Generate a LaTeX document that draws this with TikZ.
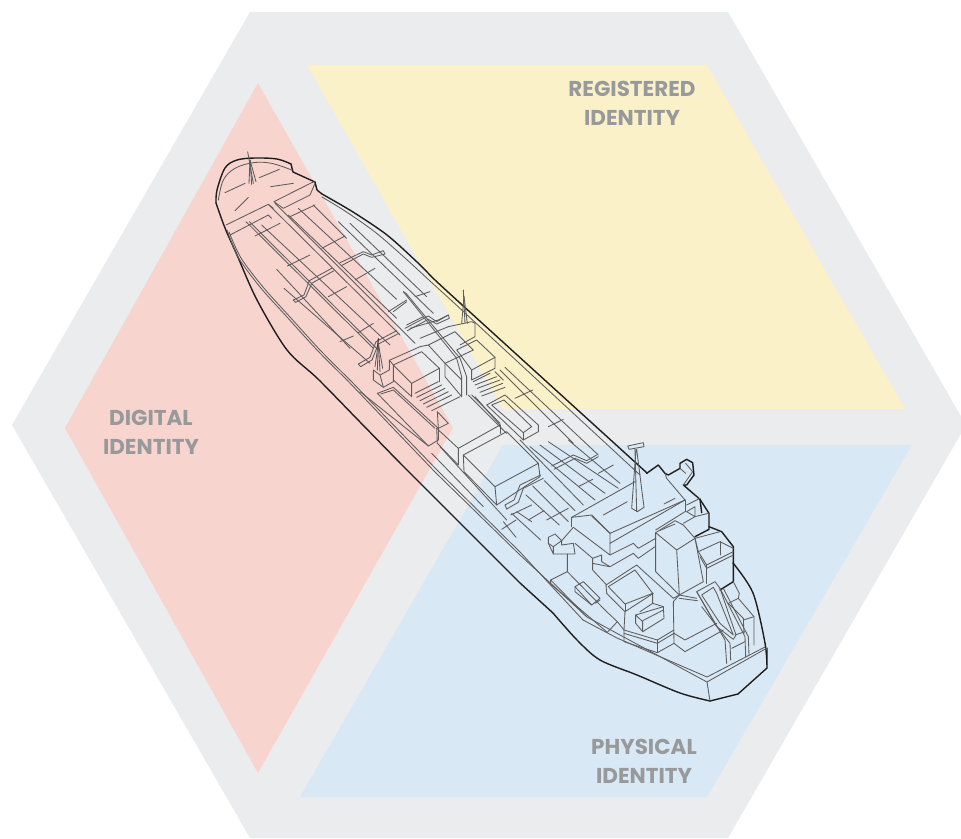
\documentclass[tikz,border=0pt]{standalone}
\usepackage{fontspec}
\setmainfont{Poppins}
\definecolor{hexc}{HTML}{EBECEE}
\definecolor{redc}{HTML}{F8D4CF}
\definecolor{yelc}{HTML}{FBF1C9}
\definecolor{bluc}{HTML}{D9E8F5}
\definecolor{txtc}{HTML}{98999B}
\definecolor{inkc}{HTML}{5C5C5C}
\definecolor{darkc}{HTML}{1E1E1E}
\tikzset{
 ln/.style={draw=inkc,line width=0.85pt,line join=round,line cap=round},
 hv/.style={draw=darkc,line width=1.4pt,line join=round,line cap=round},
 lbl/.style={text=txtc,font=\fontsize{21.5}{29}\selectfont\bfseries,align=center,inner sep=0pt},
 zoomA/.style={x=0.33333pt,y=-0.33333pt,shift={(200pt,-140pt)}},
 zoomB/.style={x=0.33333pt,y=-0.33333pt,shift={(360pt,-280pt)}},
 zoomC/.style={x=0.33333pt,y=-0.33333pt,shift={(520pt,-430pt)}},
 zoomD/.style={x=0.33333pt,y=-0.33333pt,shift={(440pt,-440pt)}}
}
\begin{document}
\begin{tikzpicture}[x=1pt,y=-1pt]
\fill[white] (0,0) rectangle (961,838);
\clip (0,0) rectangle (961,838);
\useasboundingbox (0,0) rectangle (961,838);
\fill[hexc] (250,12) -- (728,12) -- (966,425) -- (728,838) -- (250,838) -- (12,425) -- cycle;
\fill[redc] (258,83) -- (453,428) -- (258,773) -- (65,428) -- cycle;
\fill[yelc] (307,65) -- (707,65) -- (905,409) -- (503,409) -- cycle;
\fill[bluc] (503,445) -- (912,445) -- (707,797) -- (300,797) -- cycle;
\node[lbl] (reg) at (632,103) {REGISTERED\\IDENTITY};
\node[lbl] (dig) at (151,432) {DIGITAL\\IDENTITY};
\node[lbl] (phy) at (644,761) {PHYSICAL\\IDENTITY};
% hull outlines
\draw[hv] plot[smooth,tension=0.55] coordinates {(216,203) (217,190) (225,168) (237,160) (255,158) (277,159) (291,164)};
\draw[hv] (291,164) -- (293,172) -- (315,182) -- (317,190) -- (322,194);
\draw[hv] plot[smooth,tension=0.5] coordinates {(322,194) (353,212) (387,235) (417,262) (435,280) (460,303)};
\draw[hv] (460,303) -- (647,473);
\draw[hv] plot[smooth,tension=0.5] coordinates {(216,203) (225,228) (237,255) (257,300) (287,350) (318,379) (360,422) (400,463)};
\draw[hv] (400,463) -- (520,583) -- (553,613);
\draw[hv] plot[smooth,tension=0.5] coordinates {(553,613) (577,640) (600,660) (637,675) (680,693) (710,701)};
\draw[hv] (710,701) -- (738,694) -- (767,668);
\draw[hv] plot[smooth,tension=0.5] coordinates {(767,668) (765,643) (753,593) (733,563)};
% inner hull lines
\draw[ln] plot[smooth,tension=0.5] coordinates {(322,197) (345,211) (375,232) (405,258) (430,281) (452,301)};
\draw[ln] (452,301) -- (640,475);
\draw[ln] plot[smooth,tension=0.5] coordinates {(227,230) (238,257) (260,287) (287,317) (317,350) (347,380)};
\draw[ln] (347,380) -- (435,472) -- (520,555) -- (587,617);
\draw[ln] plot[smooth,tension=0.5] coordinates {(229,232) (241,258) (263,287) (290,317) (320,350) (350,380)};
\draw[ln] (350,380) -- (437,470) -- (520,552) -- (583,620);
\draw[ln] (587,617) -- (620,635) -- (707,682) -- (767,648);
\draw[ln] (583,620) -- (617,638) -- (707,677) -- (765,647);
\draw[ln] (707,682) -- (710,701);
\draw[ln] (767,648) -- (767,668);
\begin{scope}[zoomA]
 \draw[ln] plot[smooth,tension=0.6] coordinates {(55,180) (70,120) (105,85) (160,68) (215,70) (275,90)};
 % forward mast
 \draw[ln] (143,35) -- (160,130); \draw[ln] (150,60) -- (147,130); \draw[ln] (150,60) -- (155,133); \draw[ln] (150,60) -- (168,125);
 \draw[ln] (75,158) -- (135,130); \draw[ln] (178,113) -- (238,88); \draw[ln] (212,140) -- (280,130); \draw[ln] (105,212) -- (145,172);
 \draw[ln] (222,185) -- (335,128) -- (345,125); \draw[ln] (222,185) -- (250,205) -- (330,165) -- (345,130);
 \draw[ln] (78,255) -- (205,193) -- (220,205); \draw[ln] (90,285) -- (205,225) -- (215,235);
 % long deck pipes
 \draw[ln] (205,193) -- (600,585); \draw[ln] (225,190) -- (645,610);
 \draw[ln] (138,245) -- (520,625); \draw[ln] (148,245) -- (530,625);
 \draw[ln] (185,255) -- (570,615); \draw[ln] (230,388) -- (450,625); \draw[ln] (252,445) -- (510,670);
 \draw[ln] (265,225) -- (590,535); \draw[ln] (295,205) -- (590,478); \draw[ln] (340,195) -- (440,295);
 \draw[ln] (415,245) -- (700,520); \draw[ln] (450,250) -- (680,470);
 % cross pieces
 \draw[ln] (270,230) -- (345,195); \draw[ln] (165,288) -- (240,250); \draw[ln] (365,325) -- (435,288);
 \draw[ln] (262,378) -- (330,345); \draw[ln] (385,470) -- (440,440); \draw[ln] (465,420) -- (525,385);
 \draw[ln] (475,578) -- (520,550); \draw[ln] (420,605) -- (460,588); \draw[ln] (565,515) -- (620,480); \draw[ln] (645,470) -- (690,455);
 % pipe bridges
 \draw[ln] (280,480) -- (312,465) -- (328,422) -- (395,385); \draw[ln] (287,487) -- (318,470) -- (335,430) -- (402,392); \draw[ln] (280,480) -- (287,487);
 \draw[ln] (420,368) -- (490,335) -- (515,345) -- (550,332) -- (555,342) -- (515,352) -- (490,342) -- (426,376);
 \draw[ln] (475,672) -- (510,652) -- (528,605) -- (590,572); \draw[ln] (482,680) -- (516,660) -- (535,612) -- (597,580); \draw[ln] (475,672) -- (482,680);
 \draw[ln] (615,565) -- (685,528) -- (710,545) -- (745,525) -- (748,535) -- (710,552) -- (685,538) -- (622,572);
\end{scope}
\begin{scope}[zoomB]
 % aft masts
 \draw[darkc,line width=1pt] (55,175) -- (52,210);
 \draw[ln] (55,190) -- (60,275); \draw[ln] (55,190) -- (45,260); \draw[ln] (55,190) -- (52,270); \draw[ln] (55,190) -- (68,265);
 \draw[ln] (310,30) -- (315,130); \draw[ln] (312,50) -- (305,130); \draw[ln] (312,50) -- (322,130);
 % crane
 \draw[ln] (130,35) -- (290,235) -- (305,290) -- (305,350); \draw[ln] (138,40) -- (300,235) -- (320,290) -- (320,345); \draw[ln] (130,35) -- (138,40);
 % block A
 \draw[ln] (40,270) -- (40,300) -- (70,322) -- (100,305) -- (100,255) -- (88,240) -- (88,270) -- (60,285) -- cycle; \draw[ln] (60,285) -- (70,322);
 % block B
 \draw[ln] (100,255) -- (155,310) -- (238,265) -- (185,215) -- cycle;
 \draw[ln] (100,300) -- (155,350) -- (155,310); \draw[ln] (238,265) -- (238,305);
 \foreach \a/\b/\c/\d in {165/340/235/305,170/352/245/315,180/362/255/325,190/372/265/335,200/382/275/345,215/392/300/350} {\draw[ln] (\a,\b) -- (\c,\d);}
 % long box
 \draw[ln] (52,340) -- (100,322) -- (235,445) -- (235,480) -- (205,498) -- cycle;
 \draw[ln] (62,342) -- (100,330) -- (225,445);
 \draw[ln] (232,395) -- (265,430) -- (235,445) -- cycle;
 \draw[ln] (0,335) -- (205,498); 
 % block C
 \draw[ln] (230,445) -- (295,505) -- (420,435) -- (345,350); \draw[ln] (230,445) -- (232,490) -- (295,555) -- (295,505); \draw[ln] (420,435) -- (420,460);
 % block D
 \draw[ln] (310,525) -- (405,620) -- (535,550) -- (440,455) -- cycle;
 \draw[ln] (310,525) -- (312,575) -- (410,675) -- (405,620); \draw[ln] (410,675) -- (540,590) -- (535,550);
 % upper blocks
 \draw[ln] (205,195) -- (285,155) -- (340,210) -- (255,250) -- cycle;
 \draw[ln] (255,250) -- (305,300); \draw[ln] (255,250) -- (255,290) -- (305,350);
 \draw[ln] (290,210) -- (350,180) -- (405,232) -- (335,270) -- cycle; \draw[ln] (335,270) -- (335,300) -- (405,265) -- (405,232);
 \draw[ln] (265,140) -- (335,125) -- (345,130) -- (345,170) -- (300,195); \draw[ln] (180,175) -- (265,140);
 \draw[ln] (90,240) -- (180,200) -- (205,195); \draw[ln] (100,95) -- (140,65); \draw[ln] (140,135) -- (190,110);
 \draw[ln] (150,145) -- (235,120) -- (265,105);
 % right stripes
 \foreach \a/\b/\c/\d in {340/305/390/280,345/315/410/290,352/325/420/300,360/337/428/310,365/348/435/322} {\draw[ln] (\a,\b) -- (\c,\d);}
 % right long box
 \draw[ln] (380,375) -- (435,345) -- (535,435) -- (535,455) -- (490,480) -- cycle;
 \draw[ln] (395,375) -- (432,360) -- (515,440) -- (490,458) -- cycle; \draw[ln] (490,458) -- (490,480);
 % right pipes
 \draw[ln] (420,270) -- (640,490); \draw[ln] (435,262) -- (715,525); \draw[ln] (405,275) -- (430,300);
 \draw[ln] (465,355) -- (518,330); \draw[ln] (565,440) -- (610,418);
 % port-side pipes
 \draw[ln] (215,520) -- (370,680); \draw[ln] (240,500) -- (440,720); \draw[ln] (325,345) -- (440,460); \draw[ln] (335,345) -- (420,430);
\end{scope}
\begin{scope}[zoomD]
 \draw[ln] (195,195) -- (222,180) -- (240,135) -- (302,105); \draw[ln] (200,207) -- (235,187) -- (250,145) -- (310,115); \draw[ln] (195,195) -- (200,207);
 \draw[ln] (335,78) -- (400,45) -- (440,62) -- (470,45); \draw[ln] (342,88) -- (405,55) -- (440,70) -- (475,50);
 \foreach \a/\b/\c/\d in {240/0/430/195,270/20/465/180,300/15/495/160,325/5/535/145,385/0/540/130,313/122/405/212,278/138/385/245,258/165/358/255,215/220/302/300,190/245/228/292,230/215/275/245,212/225/275/195,265/240/312/212,320/240/385/205,185/268/228/240,415/140/458/118,475/100/520/75} {\draw[ln] (\a,\b) -- (\c,\d);}
\end{scope}
\begin{scope}[zoomC]
 % funnel mast
 \draw[ln] (323,48) -- (370,38) -- (372,50) -- (327,58) -- cycle;
 \draw[ln] (348,58) -- (335,235) -- (352,245) -- (372,232) -- (350,58); \draw[ln] (345,58) -- (350,243);
 % main dark superstructure
 \draw[hv] (380,130) -- (415,105) -- (435,130) -- (445,135) -- (480,115) -- (480,100) -- (500,88) -- (518,98) -- (522,135) -- (500,165) -- (490,165) -- (540,208) -- (545,248);
 \draw[hv] (540,208) -- (567,250) -- (567,298) -- (525,320); \draw[hv] (567,290) -- (605,305) -- (640,350) -- (640,455) -- (600,480);
 \draw[ln] (497,100) -- (518,125) -- (490,165); \draw[ln] (480,115) -- (497,130);
 % top deck
 \draw[ln] (155,262) -- (345,155); \draw[ln] (155,262) -- (215,255) -- (270,310) -- (495,210) ; \draw[ln] (155,290) -- (155,262);
 \draw[ln] (270,310) -- (270,340) -- (495,210); \draw[ln] (160,292) -- (270,375) -- (270,340);
 \draw[ln] (495,210) -- (440,145) -- (435,130); \draw[ln] (495,210) -- (495,245);
 \draw[ln] (250,255) -- (322,215); \draw[ln] (432,222) -- (465,205); \draw[ln] (215,258) -- (270,310);
 % wing
 \draw[ln] (85,322) -- (105,312) -- (125,332) -- (100,350) -- (85,340) -- cycle; \draw[ln] (100,350) -- (100,372) -- (85,340);
 \draw[ln] (100,372) -- (165,372) -- (160,340) -- (125,345) -- (125,332); \draw[ln] (125,332) -- (160,292);
 \draw[ln] (142,372) -- (142,425) -- (92,450) -- (92,462); \draw[ln] (92,450) -- (200,560); \draw[ln] (142,425) -- (260,545) -- (292,575) -- (262,607) -- (92,462);
 \draw[ln] (165,470) -- (190,455) -- (240,505) -- (215,525) -- cycle; \draw[ln] (165,470) -- (165,485) -- (215,525); \draw[ln] (240,510) -- (225,520);
 % middle deck steps
 \draw[ln] (165,340) -- (218,385) -- (245,375) -- (245,395) -- (270,410) -- (340,370) -- (355,385) -- (405,350) ; \draw[ln] (218,385) -- (218,400) -- (268,410);
 \draw[ln] (270,375) -- (340,340) -- (355,355) -- (407,325);
 \draw[ln] (218,400) -- (218,420) -- (260,465);
 \draw[ln] (500,245) -- (525,260) -- (525,230) -- (500,245); \draw[ln] (495,245) -- (407,300); \draw[ln] (525,260) -- (490,280);
 \draw[ln] (500,225) -- (540,205); \draw[ln] (525,260) -- (565,250);
 % tower
 \draw[ln] (407,308) -- (465,272) -- (490,285) -- (525,325) -- (470,360) -- cycle; \draw[ln] (407,308) -- (407,425) -- (478,495) -- (470,360);
 \draw[ln] (525,325) -- (550,455) -- (478,495); \draw[ln] (418,302) -- (465,282);
 % pool
 \draw[ln] (258,465) -- (350,405) -- (460,505); \draw[ln] (258,465) -- (260,490) -- (315,545) -- (400,490);
 \draw[ln] (265,470) -- (345,420) -- (398,490) -- (315,522) -- cycle; \draw[ln] (315,522) -- (315,545);
 \draw[ln] (315,545) -- (312,600) -- (312,635) -- (412,668) -- (462,640); \draw[ln] (312,600) -- (412,630) -- (462,600); \draw[ln] (412,630) -- (412,668);
 \draw[ln] (312,610) -- (412,640) -- (462,610); \draw[ln] (292,575) -- (312,600);
 % stairs
 \draw[ln] (347,555) -- (430,530) -- (432,565) -- (368,605) -- (347,580) -- cycle; \draw[ln] (368,572) -- (430,540); \draw[ln] (347,555) -- (368,575) -- (368,605); \draw[ln] (360,545) -- (398,520) -- (398,490); \draw[ln] (398,520) -- (430,530);
 % tower base
 \draw[ln] (460,515) -- (478,495); \draw[ln] (460,505) -- (478,495); \draw[ln] (460,515) -- (462,640) -- (495,665) -- (610,600); \draw[ln] (462,610) -- (495,630) -- (590,580);
 \draw[ln] (478,505) -- (532,512); \draw[ln] (478,495) -- (530,505);
 % block right
 \draw[ln] (535,365) -- (600,335) -- (640,355); \draw[ln] (535,365) -- (560,405) -- (640,365); \draw[ln] (600,335) -- (600,375); \draw[ln] (560,405) -- (560,460); \draw[ln] (540,380) -- (560,415) -- (640,375); \draw[ln] (525,325) -- (535,365); \draw[ln] (525,325) -- (600,305);
 % ladder/ramp
 \draw[ln] (530,485) -- (585,455) -- (600,475) -- (648,615) -- (640,628) -- (590,590) -- cycle;
 \draw[ln] (545,495) -- (580,472) -- (590,490) -- (640,615) -- (600,580) -- cycle;
 \draw[ln] (530,485) -- (615,630) -- (620,700); \draw[ln] (545,530) -- (630,640) -- (632,690);
 \draw[ln] (600,475) -- (675,620) -- (677,680); \draw[ln] (610,475) -- (685,620) -- (687,675);
 % stern block
 \draw[ln] (640,455) -- (658,490) -- (655,505) -- (702,560) -- (702,645); \draw[ln] (625,520) -- (655,505); \draw[ln] (670,570) -- (702,560); \draw[ln] (625,520) -- (670,565) -- (672,610);
 \draw[ln] (645,615) -- (675,605); \draw[ln] (635,655) -- (675,635);
\end{scope}
\end{tikzpicture}
\end{document}
